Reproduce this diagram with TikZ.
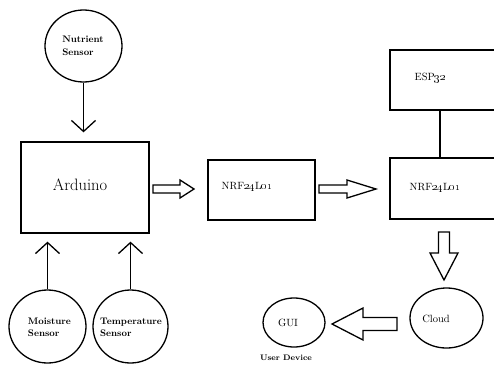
\documentclass[tikz,border=0pt]{standalone}
\usetikzlibrary{arrows.meta,shapes.geometric}
\begin{document}
\begin{tikzpicture}[x=1pt,y=-1pt,line width=1.3pt,
  box/.style={draw,rectangle,inner sep=0pt},
  oval/.style={draw,ellipse,inner sep=0pt},
  sensortext/.style={align=left,inner sep=0pt,font=\fontsize{9.5}{12.5}\selectfont\bfseries},
  lbl/.style={anchor=west,inner sep=0pt,font=\fontsize{10.5}{12}\selectfont},
  clbl/.style={inner sep=0pt,font=\fontsize{10.5}{12}\selectfont},
  linearrow/.style={-{Straight Barb[length=11pt,width=24pt]}},
  hollow/.style={draw,fill=white,line join=miter}]
\useasboundingbox (0,0) rectangle (494,369);
\clip (0,0) rectangle (494,369);
% boxes
\node[box,minimum width=128pt,minimum height=91pt] (ard) at (85,187.5) {};
\node[inner sep=0pt,font=\fontsize{16.5}{18}\selectfont] (ardt) at (80,185) {Arduino};
\node[box,minimum width=107pt,minimum height=60pt] (nrfa) at (261.5,190) {};
\node[lbl] (nrfat) at (221,187) {NRF\oldstylenums{24}L\oldstylenums{01}};
\node[box,minimum width=110pt,minimum height=61pt] (nrfb) at (445,188.5) {};
\node[lbl] (nrfbt) at (409,188) {NRF\oldstylenums{24}L\oldstylenums{01}};
\node[box,minimum width=110pt,minimum height=60pt] (esp) at (445,80) {};
\node[lbl] (espt) at (414,78) {ESP\oldstylenums{32}};
% sensors
\node[oval,minimum width=77pt,minimum height=72pt] (nut) at (83.5,46) {};
\node[sensortext] (nutt) at (83,46) {Nutrient\\Sensor};
\node[oval,minimum width=77pt,minimum height=73pt] (moi) at (47.5,326.5) {};
\node[sensortext] (moit) at (49.5,327.5) {Moisture\\Sensor};
\node[oval,minimum width=75pt,minimum height=73pt] (tem) at (130.5,326.5) {};
\node[sensortext] (temt) at (131,327.5) {Temperature\\Sensor};
% cloud & gui
\node[oval,minimum width=73pt,minimum height=60pt] (cloud) at (446.5,318) {};
\node[clbl] (cloudt) at (436,319) {Cloud};
\node[oval,minimum width=62pt,minimum height=49pt] (gui) at (294,322.5) {};
\node[clbl] (guit) at (288,323) {GUI};
\node[inner sep=0pt,font=\fontsize{8}{9}\selectfont\bfseries] (userdev) at (286,358) {User Device};
% line arrows
\draw[linearrow,shorten >=9pt] (nut.south) -- (nut.south |- ard.north);
\draw[linearrow,shorten >=8pt] (moi.north) -- (moi.north |- ard.south);
\draw[linearrow,shorten >=8pt] (tem.north) -- (tem.north |- ard.south);
\draw ([xshift=-5pt]esp.south) -- ([xshift=-5pt]nrfb.north);
% hollow block arrows
\coordinate (h1s) at (153,189); \coordinate (h1t) at (194,189);
\draw[hollow] (153,185) -- (180,185) -- (180,180) -- (h1t) -- (180,198) -- (180,193) -- (153,193) -- cycle;
\coordinate (h2s) at (319,189); \coordinate (h2t) at (376,189);
\draw[hollow] (319,185) -- (347,185) -- (347,180) -- (h2t) -- (347,198) -- (347,193) -- (319,193) -- cycle;
\coordinate (h3s) at (444,232); \coordinate (h3t) at (444,280);
\draw[hollow] (438.5,232) -- (438.5,253) -- (430,253) -- (h3t) -- (458,253) -- (449.5,253) -- (449.5,232) -- cycle;
\coordinate (h4s) at (397,324); \coordinate (h4t) at (332,324);
\draw[hollow] (397,317.5) -- (363,317.5) -- (363,308) -- (h4t) -- (363,340) -- (363,330.5) -- (397,330.5) -- cycle;
\end{tikzpicture}
\end{document}
